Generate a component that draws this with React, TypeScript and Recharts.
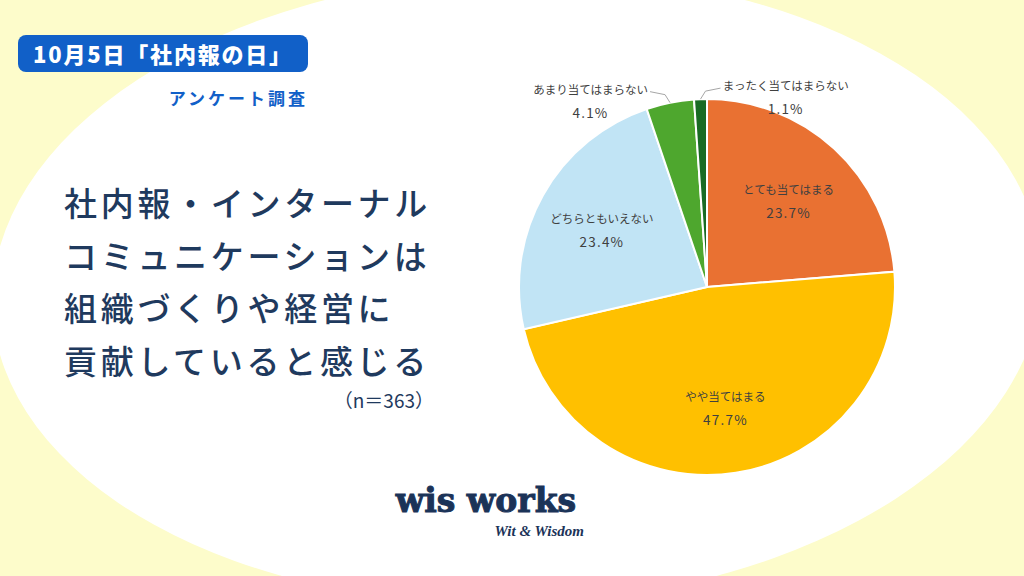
import { PieChart, Pie, Cell } from "recharts";

const categories = ["とても当てはまる", "やや当てはまる", "どちらともいえない", "あまり当てはまらない", "まったく当てはまらない"];
const shares = [23.7, 47.7, 23.4, 4.1, 1.1];
const sliceColors = ["#E97132", "#FFC000", "#C1E4F5", "#4EA72E", "#196B24"];
const titleLines = ["社内報・インターナル", "コミュニケーションは", "組織づくりや経営に", "貢献していると感じる"];
const sampleNote = "（n＝363）";
const badgeText = "10月5日「社内報の日」";
const surveyText = "アンケート調査";

const data = categories.map((name, i) => ({ name, value: shares[i] }));

const RADIAN = Math.PI / 180;
const JP = '"Noto Sans CJK JP", "Noto Sans", sans-serif';
const NAVY = "#1F3A5E";
const BLUE = "#1160C8";
const LABEL = "#404040";

function renderLabel(props: any) {
  const { cx, cy, midAngle, outerRadius, name, value, index } = props;
  const cos = Math.cos(-midAngle * RADIAN);
  const sin = Math.sin(-midAngle * RADIAN);
  const pct = value.toFixed(1) + "%";
  const nameFs = 11.5;

  if (value >= 10) {
    const r = outerRadius * 0.64;
    const x = cx + r * cos;
    const y = cy + r * sin;
    return (
      <g key={"lbl" + index}>
        <text x={x} y={y - 10} textAnchor="middle" dominantBaseline="central" fill={LABEL} fontSize={nameFs} fontFamily={JP}>
          {name}
        </text>
        <text x={x} y={y + 13} textAnchor="middle" dominantBaseline="central" fill={LABEL} fontSize={13.5} fontFamily={JP} letterSpacing={1.2}>
          {pct}
        </text>
      </g>
    );
  }

  // small slices: label outside with a short leader line
  const ex = cx + outerRadius * cos;
  const ey = cy + outerRadius * sin;
  const s = cos < -0.1 ? -1 : 1;
  const w = name.length * nameFs;
  const nx = ex + s * (22 + w / 2);
  const ny = ey - 14;
  return (
    <g key={"lbl" + index}>
      <polyline
        points={`${ex},${ey} ${ex + s * 5},${ey - 8} ${ex + s * 20},${ey - 11}`}
        fill="none"
        stroke="#A6A6A6"
        strokeWidth={1}
      />
      <text x={nx} y={ny} textAnchor="middle" dominantBaseline="central" fill={LABEL} fontSize={nameFs} fontFamily={JP}>
        {name}
      </text>
      <text x={nx} y={ny + 23} textAnchor="middle" dominantBaseline="central" fill={LABEL} fontSize={13.5} fontFamily={JP} letterSpacing={1.2}>
        {pct}
      </text>
    </g>
  );
}

export default function App() {
  return (
    <div
      style={{
        position: "absolute",
        left: 0,
        top: 0,
        width: 1024,
        height: 576,
        overflow: "hidden",
        background: "#FDFCCB",
        fontFamily: JP,
      }}
    >
      <div
        style={{
          position: "absolute",
          left: -8,
          top: -26,
          width: 1050,
          height: 630,
          borderRadius: "50%",
          background: "#FFFFFF",
          transform: "rotate(-2deg)",
        }}
      />

      {/* badge */}
      <div
        style={{
          position: "absolute",
          left: 18,
          top: 35,
          width: 290,
          height: 37,
          borderRadius: 8,
          background: BLUE,
          color: "#FFFFFF",
          fontSize: 22,
          fontWeight: 900,
          lineHeight: "37px",
          letterSpacing: 1.8,
          textAlign: "center",
          whiteSpace: "nowrap",
        }}
      >
        {badgeText}
      </div>
      <div
        style={{
          position: "absolute",
          left: 0,
          top: 86,
          width: 308,
          height: 24,
          lineHeight: "24px",
          textAlign: "right",
          color: BLUE,
          fontSize: 17,
          fontWeight: 700,
          letterSpacing: 3,
          whiteSpace: "nowrap",
        }}
      >
        {surveyText}
      </div>

      {/* headline */}
      {titleLines.map((line, i) => (
        <div
          key={i}
          style={{
            position: "absolute",
            left: 64,
            top: 185 + i * 52.7,
            height: 34,
            lineHeight: "34px",
            fontSize: 33,
            fontWeight: 500,
            letterSpacing: 3.7,
            color: NAVY,
            whiteSpace: "nowrap",
          }}
        >
          {line}
        </div>
      ))}
      <div
        style={{
          position: "absolute",
          left: 0,
          width: 434,
          top: 388,
          height: 24,
          lineHeight: "24px",
          fontSize: 19,
          textAlign: "right",
          color: NAVY,
          whiteSpace: "nowrap",
        }}
      >
        {sampleNote}
      </div>

      {/* logo */}
      <svg width={1024} height={576} style={{ position: "absolute", left: 0, top: 0 }}>
        <text
          x={486}
          y={512}
          textAnchor="middle"
          fontFamily='"DejaVu Serif", serif'
          fontWeight={700}
          fontSize={33}
          fill="#1B3358"
          stroke="#1B3358"
          strokeWidth={1}
        >
          wis works
        </text>
        <text x={584} y={536} textAnchor="end" fontFamily='"Liberation Serif", serif' fontStyle="italic" fontWeight={700} fontSize={15} fill="#1B3358">
          Wit &amp; Wisdom
        </text>
      </svg>

      <div style={{ position: "absolute", left: 0, top: 0 }}>
        <PieChart width={1024} height={576} margin={{ top: 0, right: 0, bottom: 0, left: 0 }}>
          <Pie
            data={data}
            dataKey="value"
            nameKey="name"
            cx={707}
            cy={287}
            outerRadius={188}
            startAngle={90}
            endAngle={-270}
            stroke="#FFFFFF"
            strokeWidth={2}
            label={renderLabel}
            labelLine={false}
            isAnimationActive={false}
          >
            {data.map((_, i) => (
              <Cell key={i} fill={sliceColors[i]} />
            ))}
          </Pie>
        </PieChart>
      </div>
    </div>
  );
}
